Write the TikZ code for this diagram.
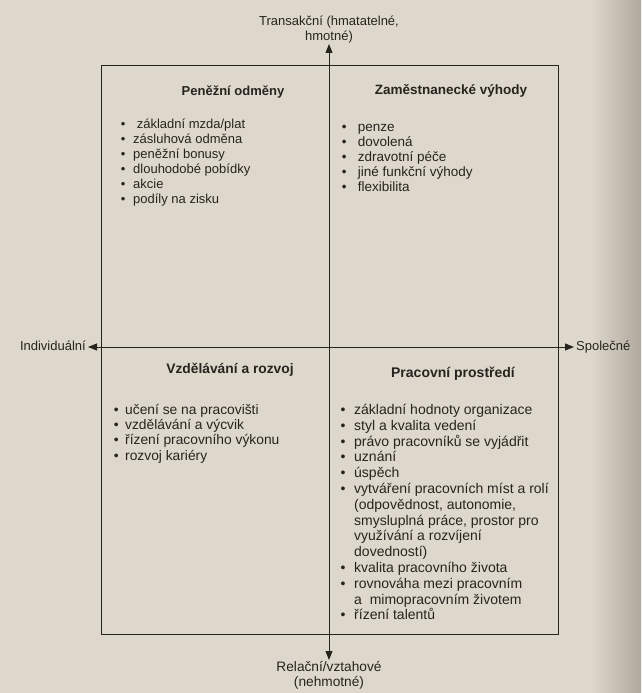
\documentclass[tikz,border=0pt]{standalone}
\usepackage{fontspec}
\setmainfont{Liberation Sans}
\usetikzlibrary{arrows.meta}

\definecolor{Paper}{HTML}{DED8CC}
\definecolor{PaperDark}{HTML}{AFA89C}
\definecolor{Ink}{HTML}{26241F}

\newlength{\bulw}
\newcommand{\bul}{\makebox[\bulw][l]{\textbullet}}
\newcommand{\cont}{\makebox[\bulw][l]{}}

\begin{document}
\begin{tikzpicture}[x=1pt, y=-1pt,
  every node/.style={text=Ink, font=\fontsize{13}{15}\selectfont},
  titre/.style={anchor=base, font=\fontsize{#1}{15}\selectfont\bfseries},
  liste/.style={anchor=north west, align=left, inner sep=0pt,
    execute at begin node={\setlength{\bulw}{#1}\strut}},
  axe/.style={line width=0.8, color=Ink,
    {Triangle[length=9pt,width=7pt]}-{Triangle[length=9pt,width=7pt]}}]

  %%%%%%%%%% Page %%%%%%%%%%
 \useasboundingbox (0,0) rectangle (641,693);
 \fill [color=Paper] (0,0) rectangle (641,693);
 \shade [left color=Paper, right color=PaperDark] (592,0) rectangle (641,693);

  %%%%%%%%%% Points du cadre %%%%%%%%%%
 \coordinate (hg) at (101,65);
 \coordinate (bd) at (558,634);

 %%%%%%%%%% Cadre %%%%%%%%%%
 \draw [line width=0.8, color=Ink] (hg) rectangle (bd);

 %%%%%%%%%% Axes %%%%%%%%%%
 \node (trans) [anchor=south, align=center, inner sep=1pt] at (329,44)
   {Transakční (hmatatelné,\\hmotné)};
 \node (rel) [anchor=north, align=center, inner sep=1pt,
   font=\fontsize{13.7}{15.5}\selectfont] at (329,660)
   {Relační/vztahové\\(nehmotné)};
 \node (indiv) [anchor=east, inner sep=2pt, text height=9pt, text depth=3pt] at (88,347) {Individuální};
 \node (spol) [anchor=west, inner sep=2pt, text height=9pt, text depth=3pt] at (574,347) {Společné};

 \draw [axe] (rel.north) -- (trans.south) ;
 \draw [axe] (indiv.east) -- (spol.west) ;

 %%%%%%%%%% Titres %%%%%%%%%%
 \node (t1) [titre=13] at (233,95) {Peněžní odměny};
 \node (t2) [titre=13.5] at (451,94) {Zaměstnanecké výhody};
 \node (t3) [titre=13.8] at (230,373) {Vzdělávání a rozvoj};
 \node (t4) [titre=14] at (453,377) {Pracovní prostředí};

 %%%%%%%%%% Listes %%%%%%%%%%
 \node (l1) [liste=12.3pt] at (120.7,119) {\bul\ základní mzda/plat\\
   \bul zásluhová odměna\\
   \bul peněžní bonusy\\
   \bul dlouhodobé pobídky\\
   \bul akcie\\
   \bul podíly na zisku};

 \node (l2) [liste=16pt, font=\fontsize{13.5}{15}\selectfont] at (341.7,124) {\bul penze\\
   \bul dovolená\\
   \bul zdravotní péče\\
   \bul jiné funkční výhody\\
   \bul flexibilita};

 \node (l3) [liste=11.3pt, font=\fontsize{13.8}{15.3}\selectfont] at (113.7,404) {\bul učení se na pracovišti\\
   \bul vzdělávání a výcvik\\
   \bul řízení pracovního výkonu\\
   \bul rozvoj kariéry};

 \node (l4) [liste=13.6pt, font=\fontsize{14}{15.8}\selectfont] at (340.4,404) {\bul základní hodnoty organizace\\
   \bul styl a kvalita vedení\\
   \bul právo pracovníků se vyjádřit\\
   \bul uznání\\
   \bul úspěch\\
   \bul vytváření pracovních míst a rolí\\
   \cont (odpovědnost, autonomie,\\
   \cont smysluplná práce, prostor pro\\
   \cont využívání a rozvíjení\\
   \cont dovedností)\\
   \bul kvalita pracovního života\\
   \bul rovnováha mezi pracovním\\
   \cont a\ \ mimopracovním životem\\
   \bul řízení talentů};

\end{tikzpicture}
\end{document}
